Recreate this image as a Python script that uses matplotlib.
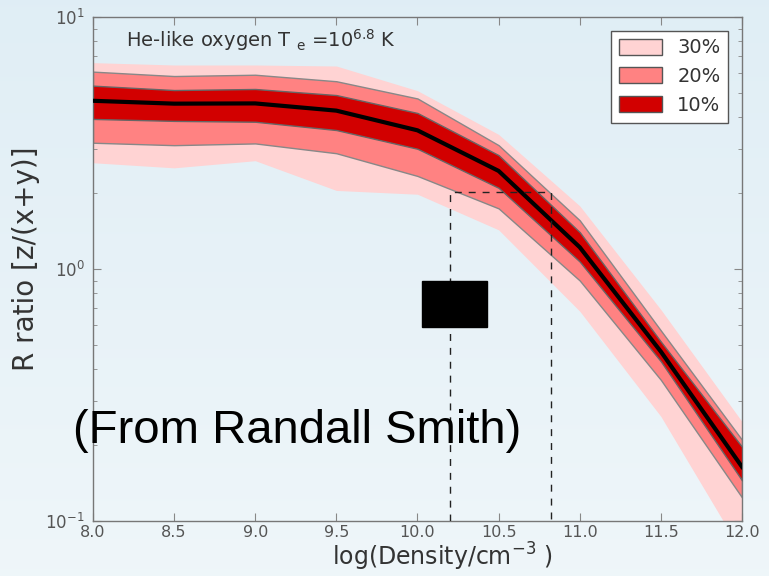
import numpy as np
import matplotlib
matplotlib.use("Agg")
import matplotlib.pyplot as plt
from matplotlib.patches import Patch, Rectangle

# ---- data ----
log_density = [8.0, 8.5, 9.0, 9.5, 10.0, 10.5, 11.0, 11.5, 12.0]
r_center = [4.65, 4.53, 4.54, 4.25, 3.55, 2.45, 1.22, 0.47, 0.164]
r10_hi = [5.34, 5.13, 5.18, 4.90, 4.16, 2.83, 1.40, 0.515, 0.197]
r10_lo = [3.94, 3.87, 3.84, 3.56, 3.00, 2.10, 1.07, 0.43, 0.145]
r20_hi = [6.07, 5.83, 5.90, 5.56, 4.75, 3.10, 1.56, 0.57, 0.21]
r20_lo = [3.17, 3.10, 3.15, 2.88, 2.34, 1.74, 0.90, 0.363, 0.124]
r30_hi = [6.59, 6.45, 6.45, 6.39, 5.10, 3.42, 1.78, 0.69, 0.248]
r30_lo = [2.64, 2.52, 2.69, 2.05, 1.98, 1.43, 0.68, 0.26, 0.075]
band_labels = ["30%", "20%", "10%"]

# dashed measurement box (log density range, R upper value)
meas_x = [10.2, 10.82]
meas_r = 2.02
# black overlay box (x range, y range)
box_x = [10.03, 10.43]
box_y = [0.59, 0.895]

x_ticks = [8.0, 8.5, 9.0, 9.5, 10.0, 10.5, 11.0, 11.5, 12.0]

c30 = "#ffd3d3"
c20 = "#ff8282"
c10 = "#d20000"

fig = plt.figure(figsize=(7.69, 5.76), dpi=100)

# background gradient (slide)
bg = fig.add_axes([0, 0, 1, 1], zorder=-10)
grad = np.linspace(0, 1, 256).reshape(-1, 1)
top = np.array([0.878, 0.933, 0.961])
bot = np.array([0.937, 0.965, 0.980])
img = top[None, None, :] * (1 - grad[:, :, None]) + bot[None, None, :] * grad[:, :, None]
bg.imshow(img, aspect="auto", extent=[0, 1, 0, 1])
bg.axis("off")

ax = fig.add_axes([0.1209, 0.0955, 0.8440, 0.8750])
ax.set_facecolor("none")

ax.fill_between(log_density, r30_lo, r30_hi, color=c30, lw=0, zorder=1)
ax.fill_between(log_density, r20_lo, r20_hi, facecolor=c20, edgecolor="#888888", lw=1.0, zorder=2)
ax.fill_between(log_density, r10_lo, r10_hi, facecolor=c10, edgecolor="#666666", lw=1.0, zorder=3)
ax.plot(log_density, r_center, color="black", lw=3, zorder=4)

# dashed box
ax.plot([meas_x[0], meas_x[0], meas_x[1], meas_x[1]], [0.1, meas_r, meas_r, 0.1],
        color="#222222", lw=1.0, ls=(0, (5, 5)), zorder=5)
ax.add_patch(Rectangle((box_x[0], box_y[0]), box_x[1] - box_x[0], box_y[1] - box_y[0],
                       facecolor="black", edgecolor="black", zorder=6))

ax.set_yscale("log")
ax.set_xlim(8.0, 12.0)
ax.set_ylim(0.1, 10)
ax.set_xticks(x_ticks)
ax.set_xticklabels([f"{v:.1f}" for v in x_ticks])

for s in ax.spines.values():
    s.set_color("#777777")
    s.set_linewidth(1.0)
ax.tick_params(which="both", direction="in", top=True, right=True, colors="#888888",
               labelcolor="#555555")
ax.tick_params(which="major", length=6, labelsize=12, pad=6)
ax.tick_params(which="minor", length=3)
ax.tick_params(axis="x", pad=3, labelsize=11.5)
ax.tick_params(axis="y", labelsize=12)

ax.set_xlabel(r"log(Density/cm$^{-3}$ )", fontsize=17, color="#333333")
ax.xaxis.set_label_coords(0.538, -0.040)
ax.set_ylabel("R ratio [z/(x+y)]", fontsize=20, color="#333333")
ax.yaxis.set_label_coords(-0.082, 0.52)

ax.text(0.051, 0.955, r"He-like oxygen T $_{\rm e}$ =10$^{6.8}$ K", transform=ax.transAxes,
        fontsize=14, color="#333333", va="center", ha="left")

handles = [Patch(facecolor=c30, edgecolor="#555555"),
           Patch(facecolor=c20, edgecolor="#555555"),
           Patch(facecolor=c10, edgecolor="#555555")]
leg = ax.legend(handles, band_labels, loc="upper right", fontsize=14, fancybox=False,
                framealpha=1, edgecolor="#555555", handlelength=2.2, handleheight=0.9,
                borderaxespad=0.7, labelspacing=0.5)
leg.get_frame().set_linewidth(1.0)
for t in leg.get_texts():
    t.set_color("#333333")

fig.text(0.095, 0.231, "(From Randall Smith)", fontsize=34, family="Liberation Sans",
         color="black", ha="left", va="baseline", zorder=20)

fig.savefig("out.png", dpi=100)
